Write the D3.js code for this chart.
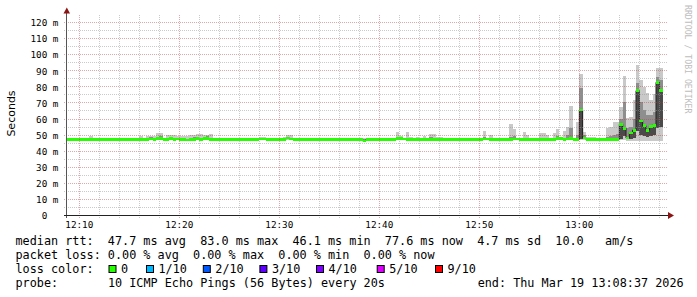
<!DOCTYPE html>
<html>
<head>
<meta charset="utf-8">
<script src="https://cdn.jsdelivr.net/npm/d3@7"></script>
<style>
  body { margin: 0; background: #fff; }
  svg text { font-family: "DejaVu Sans Mono", monospace; white-space: pre; }
</style>
</head>
<body>
<svg id="chart" width="697" height="297"></svg>
<script>
// median rtt in ms, one value per 20s step (last step not filled yet)
const rttMedian = [
  46.8, 47.2, 47.2, 47.0, 47.2, 47.0, 46.9, 47.2, 47.0, 46.9,
  47.0, 47.2, 47.0, 47.0, 47.0, 47.2, 47.0, 46.9, 47.0, 47.0,
  47.0, 47.0, 47.2, 47.0, 47.1, 47.3, 47.1, 47.4, 47.6, 47.1,
  47.1, 47.5, 47.0, 47.3, 47.0, 46.9, 46.7, 47.0, 47.2, 47.4,
  47.0, 47.4, 47.6, 47.2, 47.0, 47.0, 46.9, 47.0, 47.0, 47.0,
  47.1, 47.0, 47.0, 47.0, 47.0, 46.9, 47.0, 47.0, 47.3, 47.3,
  47.0, 47.0, 46.9, 47.0, 47.0, 47.1, 47.9, 47.3, 47.0, 47.0,
  47.0, 47.0, 47.0, 47.0, 47.0, 47.0, 47.0, 47.2, 47.0, 47.0,
  47.0, 47.0, 47.0, 47.0, 47.0, 47.0, 47.0, 47.0, 47.0, 46.1,
  47.0, 47.0, 47.0, 47.0, 47.1, 47.0, 47.0, 47.0, 47.0, 47.5,
  47.8, 47.3, 47.2, 47.0, 47.0, 47.1, 47.0, 47.0, 47.0, 47.1,
  47.0, 47.0, 47.0, 47.0, 47.0, 47.0, 47.0, 47.0, 47.0, 47.0,
  47.0, 47.0, 47.2, 47.0, 47.0, 47.3, 47.3, 47.1, 47.0, 47.0,
  47.0, 47.0, 47.0, 47.1, 47.3, 47.3, 47.2, 47.1, 47.0, 47.0,
  47.0, 47.0, 47.2, 47.2, 47.0, 47.1, 47.2, 47.6, 47.4, 47.0,
  47.3, 47.4, 47.0, 47.0, 65.3, 48.0, 47.0, 47.0, 47.0, 47.0,
  47.0, 47.0, 47.0, 47.0, 47.0, 47.0, 56.4, 54.0, 47.9, 51.0,
  52.8, 77.3, 58.5, 55.5, 52.8, 54.9, 55.8, 82.5, 77.6, null
];

// smoke (spread of the 10 pings) for the steps where it shows
const smokeStep = [7, 9, 10, 15, 22, 24, 25, 26, 27, 28, 30, 31, 32, 33, 34, 35, 36, 37, 38, 39,
  40, 41, 42, 43, 50, 58, 59, 63, 64, 65, 66, 67, 77, 79, 80, 82, 89, 94, 97, 98,
  99, 100, 102, 103, 105, 107, 109, 110, 111, 112, 122, 125, 127, 133, 134, 137, 138, 142, 143, 144,
  146, 147, 149, 150, 151, 153, 154, 155, 156, 157, 158, 162, 163, 164, 165, 166, 167, 168, 169, 170,
  171, 172, 173, 174, 175, 176, 177, 178];
const smokeMin = [46.8, 46.8, 46.8, 46.8, 46.8, 46.8, 46.8, 46.8, 46.8, 46.9, 46.8, 46.8, 46.8, 46.8, 46.8, 46.7, 46.6, 46.8, 46.8, 46.8,
  46.8, 46.8, 46.9, 46.8, 46.8, 46.8, 46.8, 46.8, 46.8, 46.8, 46.8, 46.8, 46.8, 46.8, 46.8, 46.8, 45.8, 46.8, 46.8, 46.8,
  46.8, 46.8, 46.8, 46.8, 46.8, 46.8, 46.8, 46.8, 46.8, 46.8, 46.8, 46.8, 46.8, 46.8, 46.8, 46.8, 46.8, 46.8, 46.8, 46.8,
  46.8, 46.8, 46.8, 46.8, 46.8, 46.8, 46.5, 46.8, 46.8, 46.8, 46.8, 46.8, 46.8, 46.8, 46.8, 46.8, 46.5, 46.0, 45.8, 45.8,
  45.8, 45.8, 45.8, 45.8, 45.8, 45.8, 45.8, 45.8];
const smokeQ1 = [47.0, 47.0, 47.0, 47.0, 47.0, 47.0, 47.1, 47.0, 47.1, 47.2, 47.0, 47.2, 47.0, 47.0, 47.0, 46.9, 46.8, 47.0, 47.0, 47.1,
  47.0, 47.2, 47.3, 47.0, 47.0, 47.0, 47.0, 47.0, 47.0, 47.0, 47.2, 47.0, 47.0, 47.0, 47.0, 47.0, 46.0, 47.0, 47.0, 47.0,
  47.1, 47.2, 47.0, 47.0, 47.0, 47.0, 47.2, 47.0, 47.0, 47.0, 47.0, 47.0, 47.0, 47.1, 47.2, 47.0, 47.0, 47.0, 47.0, 47.0,
  47.0, 47.2, 47.0, 47.1, 47.2, 47.0, 47.5, 47.2, 47.0, 47.0, 47.0, 47.0, 47.0, 47.1, 47.2, 47.5, 49.0, 47.0, 47.5, 48.0,
  52.0, 50.0, 49.0, 48.5, 49.0, 49.5, 54.0, 55.0];
const smokeQ3 = [47.4, 47.2, 47.2, 47.3, 47.4, 47.5, 48.3, 47.6, 48.0, 49.2, 47.6, 48.5, 47.6, 47.5, 47.5, 47.4, 47.3, 47.8, 48.2, 48.0,
  47.8, 48.8, 49.0, 48.0, 47.3, 47.6, 47.6, 47.4, 47.4, 48.0, 48.3, 47.8, 47.4, 47.2, 47.2, 47.2, 47.2, 47.2, 47.2, 47.2,
  48.6, 48.3, 47.8, 47.4, 47.6, 47.8, 48.4, 47.8, 47.4, 47.4, 47.4, 48.2, 47.8, 48.5, 49.2, 48.0, 47.6, 47.6, 47.6, 47.4,
  47.8, 49.0, 48.0, 49.5, 54.0, 50.0, 79.0, 49.5, 47.4, 47.4, 47.4, 48.5, 49.0, 50.0, 50.5, 60.0, 70.0, 54.0, 55.0, 60.0,
  82.0, 70.0, 65.0, 62.0, 62.0, 64.0, 86.0, 84.0];
const smokeMax = [49.3, 47.6, 47.6, 47.9, 49.3, 49.1, 49.1, 49.1, 51.0, 51.0, 49.7, 49.7, 49.7, 49.1, 49.1, 49.0, 49.0, 49.6, 49.6, 50.4,
  50.4, 49.7, 49.7, 50.4, 47.8, 48.7, 48.7, 48.0, 48.0, 48.3, 49.6, 49.6, 48.0, 47.8, 47.8, 47.8, 48.0, 47.5, 47.6, 47.6,
  51.6, 49.0, 51.6, 48.2, 48.7, 49.3, 50.4, 50.4, 48.5, 48.5, 48.0, 52.2, 50.0, 56.6, 53.3, 51.8, 49.7, 51.2, 51.2, 49.7,
  51.0, 53.7, 52.0, 54.9, 67.8, 58.0, 87.7, 51.8, 48.3, 48.3, 48.3, 54.0, 55.0, 58.0, 58.0, 67.3, 86.4, 60.1, 61.1, 71.5,
  93.3, 84.0, 79.8, 75.7, 71.5, 75.2, 91.2, 91.2];

const yTickValues = [0, 10, 20, 30, 40, 50, 60, 70, 80, 90, 100, 110, 120];
const timeTickLabels = ["12:10", "12:20", "12:30", "12:40", "12:50", "13:00"];
const lossLabels = ["0", "1/10", "2/10", "3/10", "4/10", "5/10", "9/10"];
const lossColors = ["#26ff00", "#00b8ff", "#0059ff", "#5e00ff", "#7e00ff", "#dd00ff", "#ff0000"];
const rttStats = ["47.7 ms avg", "83.0 ms max", "46.1 ms min", "77.6 ms now", "4.7 ms sd", "10.0   am/s"];
const lossStats = ["0.00 % avg", "0.00 % max", "0.00 % min", "0.00 % now"];
const probeText = "10 ICMP Echo Pings (56 Bytes) every 20s";
const endText = "end: Thu Mar 19 13:08:37 2026";

const stepSeconds = 20;
const stepStart = new Date(2026, 2, 19, 12, 8, 40);
const stepTime = i => new Date(+stepStart + i * stepSeconds * 1000);

const svg = d3.select("#chart");
svg.append("rect").attr("width", 697).attr("height", 297).attr("fill", "#fff");

const x = d3.scaleTime()
    .domain([new Date(2026, 2, 19, 12, 8, 46), new Date(2026, 2, 19, 13, 8, 46)])
    .range([67, 667]);
const y = d3.scaleLinear().domain([0, 120]).range([215, 22]);

svg.append("clipPath").attr("id", "plotclip")
  .append("rect").attr("x", 67).attr("y", 15).attr("width", 600).attr("height", 200);

const plot = svg.append("g").attr("clip-path", "url(#plotclip)");

// smoke
const smoke = smokeStep.map((s, k) => ({
  x0: x(stepTime(s)), x1: x(stepTime(s + 1)),
  min: smokeMin[k], q1: smokeQ1[k], q3: smokeQ3[k], max: smokeMax[k], med: rttMedian[s]
}));

function band(cls, color, lo, hi) {
  plot.selectAll("." + cls)
    .data(smoke)
    .enter().append("rect")
    .attr("class", cls)
    .attr("x", d => d.x0)
    .attr("width", d => d.x1 - d.x0)
    .attr("y", d => y(hi(d)))
    .attr("height", d => Math.max(0, y(lo(d)) - y(hi(d))))
    .attr("fill", color)
    .attr("shape-rendering", "crispEdges");
}
band("outer", "#c9c9c9", d => d.min, d => d.max);
band("upper", "#8e8e8e", d => d.med, d => d.q3);
band("lower", "#4a4a4a", d => d.q1, d => d.med);

// median step line
const medPts = rttMedian.map((v, i) => ({ t: stepTime(i), v: v })).filter(d => d.v != null);
medPts.push({ t: stepTime(medPts.length), v: medPts[medPts.length - 1].v });
plot.append("path")
  .datum(medPts)
  .attr("fill", "none")
  .attr("stroke", "#202020")
  .attr("stroke-width", 1)
  .attr("d", d3.line().x(d => x(d.t)).y(d => y(d.v)).curve(d3.curveStepAfter));

// median marks in loss colour
plot.selectAll(".med")
  .data(rttMedian.map((v, i) => ({ i: i, v: v })).filter(d => d.v != null))
  .enter().append("rect")
  .attr("class", "med")
  .attr("x", d => x(stepTime(d.i)))
  .attr("width", d => x(stepTime(d.i + 1)) - x(stepTime(d.i)))
  .attr("y", d => y(d.v) - 1.3)
  .attr("height", 2.8)
  .attr("fill", lossColors[0])
  .attr("shape-rendering", "crispEdges");

// grid on top
const grid = svg.append("g").attr("stroke-dasharray", "1,1");
const minorGrid = "rgba(150,150,150,0.5)";
const majorGrid = "rgba(195,60,60,0.45)";
const [tStart, tEnd] = x.domain();
d3.timeMinute.every(2).range(tStart, tEnd).forEach(t => {
  const px = Math.round(x(t)) + 0.5;
  grid.append("line")
    .attr("x1", px).attr("x2", px).attr("y1", 15).attr("y2", 218)
    .attr("stroke", t.getMinutes() % 10 === 0 ? majorGrid : minorGrid);
});
for (let v = 5; v <= 120; v += 5) {
  const py = Math.round(y(v)) + 0.5;
  grid.append("line")
    .attr("x1", 64).attr("x2", 668).attr("y1", py).attr("y2", py)
    .attr("stroke", v % 10 === 0 ? majorGrid : minorGrid);
}

// axes
svg.append("line").attr("x1", 66.5).attr("x2", 66.5).attr("y1", 218).attr("y2", 12)
  .attr("stroke", "#555");
svg.append("line").attr("x1", 64).attr("x2", 669).attr("y1", 215.5).attr("y2", 215.5)
  .attr("stroke", "#222");
svg.append("path").attr("d", "M63.5,13.5L66.8,7.5L70,13.5Z").attr("fill", "#8b1414");
svg.append("path").attr("d", "M668,212L674,215.5L668,219Z").attr("fill", "#8b1414");

// y tick labels
const yLab = svg.append("g").attr("font-size", "9.3px").attr("fill", "#000");
yTickValues.forEach(v => {
  yLab.append("text").attr("x", 47.3).attr("y", y(v) + 4.3)
    .attr("text-anchor", "end").text(v);
  if (v > 0) yLab.append("text").attr("x", 52.8).attr("y", y(v) + 4.3).text("m");
});

// time tick labels
const parseHM = d3.timeParse("%H:%M");
svg.append("g").attr("font-size", "9.3px")
  .selectAll("text")
  .data(timeTickLabels)
  .enter().append("text")
  .attr("x", d => {
    const p = parseHM(d);
    return x(new Date(2026, 2, 19, p.getHours(), p.getMinutes()));
  })
  .attr("y", 228)
  .attr("text-anchor", "middle")
  .text(d => d);

// axis title and watermark
svg.append("text")
  .attr("transform", "translate(15,113.5) rotate(-90)")
  .attr("text-anchor", "middle")
  .style("font-family", "'DejaVu Sans', sans-serif")
  .attr("font-size", "11px")
  .text("Seconds");
svg.append("text")
  .attr("transform", "translate(684.5,5) rotate(90)")
  .attr("font-size", "8.2px")
  .attr("fill", "#bdbdbd")
  .text("RRDTOOL / TOBI OETIKER");

// legend, laid out on a monospace column grid
const charW = 7.11;
const col = n => 15.5 + n * charW;
const leg = svg.append("g").attr("font-size", "11.8px").attr("fill", "#000");
const rowY = [245, 259, 273, 287];
const swatchX = [108.5, 146, 202.8, 259.4, 316, 376.7, 435];

leg.append("text").attr("x", col(0)).attr("y", rowY[0])
  .text("median rtt:  " + rttStats.join("  "));
leg.append("text").attr("x", col(0)).attr("y", rowY[1])
  .text("packet loss: " + lossStats.join("  "));
leg.append("text").attr("x", col(0)).attr("y", rowY[2]).text("loss color:");
lossLabels.forEach((s, i) => {
  leg.append("rect").attr("x", swatchX[i] + 0.5).attr("y", 265.5)
    .attr("width", 7).attr("height", 7)
    .attr("fill", lossColors[i]).attr("stroke", "#000").attr("stroke-width", 1);
  leg.append("text").attr("x", swatchX[i] + 12.5).attr("y", rowY[2]).text(s);
});
leg.append("text").attr("x", col(0)).attr("y", rowY[3]).text("probe:");
leg.append("text").attr("x", col(13)).attr("y", rowY[3]).text(probeText);
leg.append("text").attr("x", col(65)).attr("y", rowY[3]).text(endText);
</script>
</body>
</html>
